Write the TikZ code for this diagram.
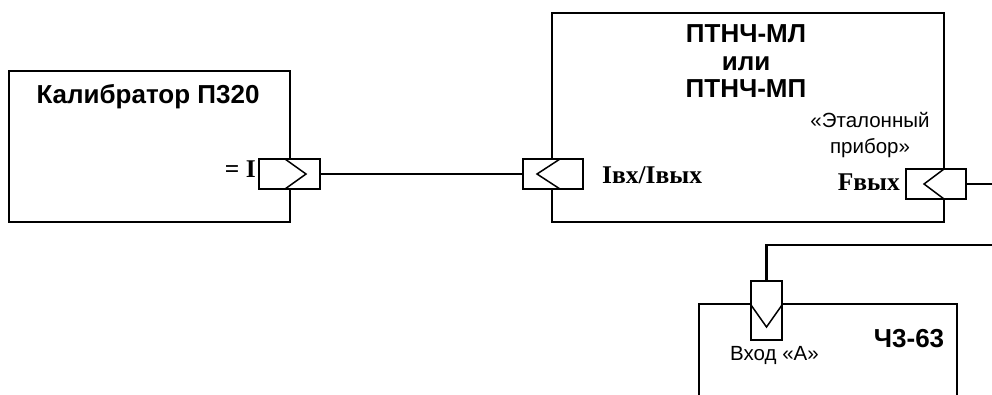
\documentclass[tikz,border=0pt]{standalone}
\usepackage{fontspec}
\setmainfont{Liberation Sans}
\newfontfamily\sigfont{Liberation Serif}
\begin{document}
\begin{tikzpicture}[x=1pt, y=-1pt,
  devbox/.style={draw, line width=2.6pt, inner sep=0pt},
  port/.style={draw, fill=white, line width=1.6pt, inner sep=0pt},
  wire/.style={line width=2.2pt},
  chev/.style={line width=1.5pt},
  devname/.style={font=\fontsize{26}{30}\selectfont\bfseries, inner sep=0pt},
  note/.style={font=\fontsize{20.5}{24}\selectfont, inner sep=0pt},
  sig/.style={font=\fontsize{25.5}{30}\sigfont\bfseries, inner sep=0pt}]
  \useasboundingbox (0,0) rectangle (992,394);
  \clip (0,0) rectangle (992,394);
  \node[devbox, minimum width=281pt, minimum height=151pt] (calib) at (149.5,146.5) {};
  \node[devbox, minimum width=392pt, minimum height=209pt] (ptnch) at (748,117.5) {};
  \node[devbox, minimum width=258pt, minimum height=146pt] (freq) at (828,377) {};
  \node[port, minimum width=61pt, minimum height=30pt] (pcal) at (289.5,174) {};
  \node[port, minimum width=60pt, minimum height=30pt] (pin) at (553,174) {};
  \node[port, minimum width=60pt, minimum height=30pt] (pout) at (936,184) {};
  \node[port, minimum width=31pt, minimum height=59pt] (pa) at (766.5,310.5) {};
  \draw[chev] (285,159) -- (306,174) -- (285,189);
  \draw[chev] (560,159) -- (537,174) -- (560,189);
  \draw[chev] (944,169) -- (924,184) -- (944,199);
  \draw[chev] (751,305) -- (766.5,327) -- (782,305);
  \coordinate (edgeA) at (992,184);
  \coordinate (edgeB) at (992,245);
  \draw[wire] (pcal.east) -- (pin.west);
  \draw[wire] (pout.east) -- (edgeA);
  \draw[wire] (pa.north) |- (edgeB);
  \node[devname, anchor=base] (calibname) at (148,103) {Калибратор П320};
  \node[devname, anchor=base] (ptnch1) at (746,42) {ПТНЧ-МЛ};
  \node[devname, anchor=base] (ptnch2) at (746,70) {или};
  \node[devname, anchor=base] (ptnch3) at (746,97) {ПТНЧ-МП};
  \node[devname, anchor=base] (freqname) at (909,347) {Ч3-63};
  \node[note, anchor=base] (ref1) at (870,127) {«Эталонный};
  \node[note, anchor=base] (ref2) at (870,153) {прибор»};
  \node[note, anchor=base west] (ina) at (730,360) {Вход «А»};
  \node[sig, anchor=base east] (ilbl) at (256,177) {= I};
  \node[sig, anchor=base west] (iolbl) at (602,183) {Iвх/Iвых};
  \node[sig, anchor=base east] (flbl) at (900,190) {Fвых};
\end{tikzpicture}
\end{document}
